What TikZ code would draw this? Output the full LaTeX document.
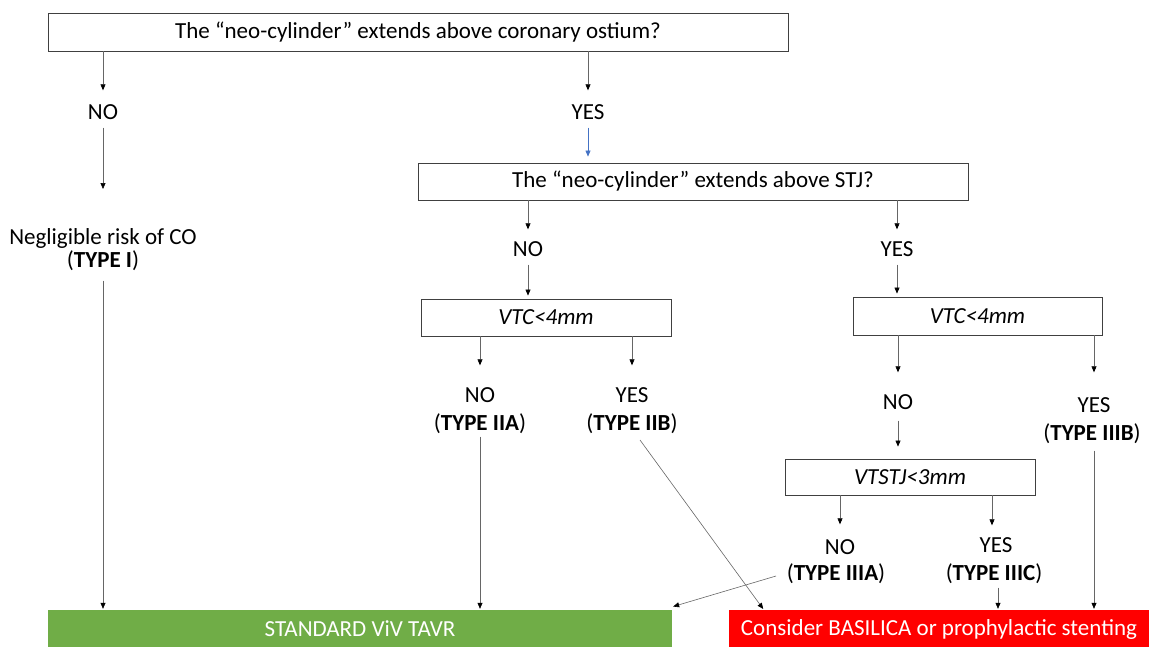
\documentclass[tikz,border=0pt]{standalone}
\usepackage{fontspec}
\setmainfont{Carlito}
\usetikzlibrary{arrows.meta,calc}
\definecolor{ggreen}{HTML}{70AD47}
\definecolor{rred}{HTML}{FF0000}
\definecolor{bblue}{HTML}{4472C4}
\definecolor{lgray}{HTML}{404040}
\begin{document}
\begin{tikzpicture}[x=1pt,y=-1pt,
  fnt/.style={font=\fontsize{23}{27}\selectfont},
  box/.style={fnt,draw=lgray,line width=0.9pt,fill=white,inner sep=0pt},
  endbox/.style={fnt,inner sep=0pt,text=white,minimum height=38pt},
  lbl/.style={fnt,inner sep=0pt,text height=15pt,text depth=0pt},
  arr/.style={draw=black!60,line width=0.6pt,-{Triangle[length=6pt,width=5pt,color=black]}},
  barr/.style={draw=bblue,line width=0.6pt,-{Triangle[length=6pt,width=5pt,color=bblue]}}
]
\useasboundingbox (0,0) rectangle (1149,646);

% boxes
\node[box,minimum width=740pt,minimum height=38pt] (top) at (418,32) {The “neo-cylinder” extends above coronary ostium?};
\node[box,minimum width=550pt,minimum height=37pt] (stj) at (693,181.5) {The “neo-cylinder” extends above STJ?};
\node[box,minimum width=250pt,minimum height=37pt] (vtc1) at (546,317.5) {\textit{VTC<4mm}};
\node[box,minimum width=249pt,minimum height=38pt] (vtc2) at (977.5,316) {\textit{VTC<4mm}};
\node[box,minimum width=250pt,minimum height=36pt] (vtstj) at (910,477) {\textit{VTSTJ<3mm}};
\node[endbox,fill=ggreen,minimum width=624pt] (green) at (360,629) {STANDARD ViV TAVR};
\node[endbox,fill=rred,minimum width=420pt] (red) at (939,629) {Consider BASILICA or prophylactic stenting};

% labels
\node[lbl] (no1) at (103,112) {NO};
\node[lbl] (yes1) at (588,112) {YES};
\node[lbl] (neg) at (103,236.5) {Negligible risk of CO};
\node[lbl] (typeI) at (103,260) {(\textbf{TYPE I})};
\node[lbl] (no2) at (528,249) {NO};
\node[lbl] (yes2) at (897,249) {YES};
\node[lbl] (no3) at (480,395) {NO};
\node[lbl] (typeIIA) at (480,423) {(\textbf{TYPE IIA})};
\node[lbl] (yes3) at (632,395) {YES};
\node[lbl] (typeIIB) at (632,423) {(\textbf{TYPE IIB})};
\node[lbl] (no4) at (898,402) {NO};
\node[lbl] (yes4) at (1094,405) {YES};
\node[lbl] (typeIIIB) at (1092,433) {(\textbf{TYPE IIIB})};
\node[lbl] (no5) at (840,547) {NO};
\node[lbl] (typeIIIA) at (836,573) {(\textbf{TYPE IIIA})};
\node[lbl] (yes5) at (996,545) {YES};
\node[lbl] (typeIIIC) at (994,573) {(\textbf{TYPE IIIC})};

% free ends
\coordinate (c1) at (103,189);
\coordinate (d1s) at (640,440);
\coordinate (d2s) at (776,576);

% connectors
\draw[arr,shorten >=14pt] (top.south -| no1) -- (no1.north);
\draw[arr,shorten >=14pt] (top.south -| yes1) -- (yes1.north);
\draw[arr,shorten <=8pt] (no1.south) -- (c1);
\draw[barr,shorten <=8pt,shorten >=6pt] (yes1.south) -- (stj.north -| yes1);
\draw[arr,shorten >=12pt] (stj.south -| no2) -- (no2.north);
\draw[arr,shorten >=12pt] (stj.south -| yes2) -- (yes2.north);
\draw[arr,shorten <=8pt,shorten >=3pt] (no2.south) -- (vtc1.north -| no2);
\draw[arr,shorten <=8pt,shorten >=3pt] (yes2.south) -- (vtc2.north -| yes2);
\draw[arr,shorten >=22pt] (vtc1.south -| no3) -- (no3.north);
\draw[arr,shorten >=22pt] (vtc1.south -| yes3) -- (yes3.north);
\draw[arr,shorten >=22pt] (vtc2.south -| no4) -- (no4.north);
\draw[arr,shorten >=25pt] (vtc2.south -| yes4) -- (yes4.north);
\draw[arr,shorten <=11pt,shorten >=12pt] (no4.south) -- (vtstj.north -| no4);
\draw[arr,shorten >=15pt] (vtstj.south -| no5) -- (no5.north);
\draw[arr,shorten >=12pt] ($(vtstj.south -| yes5)+(-4,0)$) -- ($(yes5.north)+(-4,0)$);
\draw[arr,shorten <=13pt,shorten >=1pt] (typeI.south) -- (green.north -| typeI);
\draw[arr,shorten <=6pt,shorten >=1pt] (typeIIA.south) -- (green.north -| typeIIA);
\draw[arr,shorten >=1pt] (d1s) -- ($(red.north west)+(35,0)$);
\draw[arr,shorten >=1pt] (d2s) -- ($(green.north east)+(0,-3)$);
\draw[arr,shorten <=7pt,shorten >=1pt] ($(typeIIIC.south)+(4,0)$) -- ($(red.north -| typeIIIC)+(4,0)$);
\draw[arr,shorten <=10pt,shorten >=1pt] ($(typeIIIB.south)+(2,0)$) -- ($(red.north -| typeIIIB)+(2,0)$);
\end{tikzpicture}
\end{document}
